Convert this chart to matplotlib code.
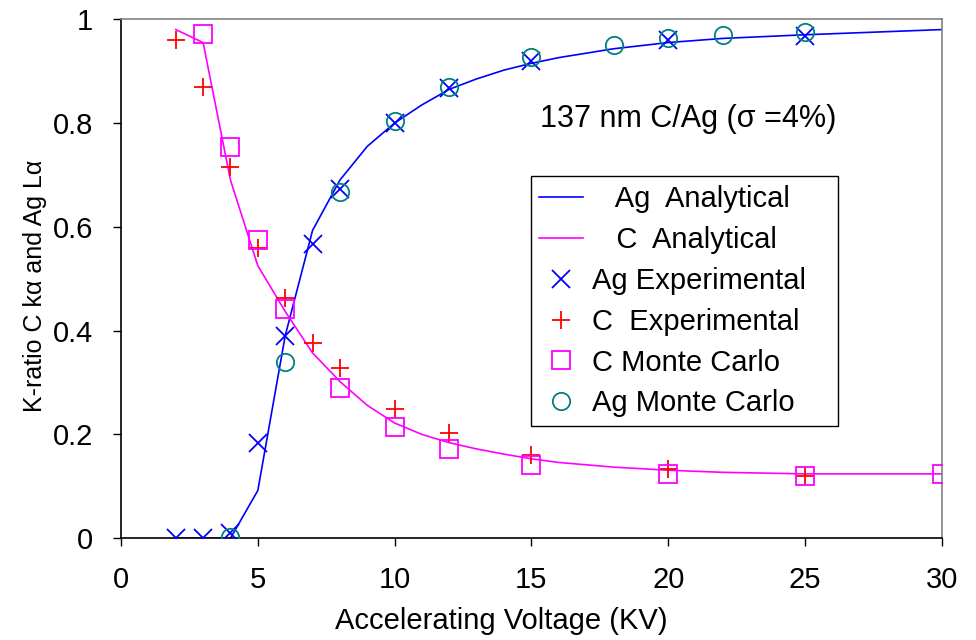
import matplotlib
matplotlib.use("Agg")
import matplotlib.pyplot as plt
from matplotlib.ticker import FuncFormatter

plt.rcParams['font.family'] = ['Liberation Sans', 'DejaVu Sans']

# Analytical curves
ag_an_x = [2, 3, 4, 5, 6, 7, 8, 9, 10, 11, 12, 13, 14, 15, 16, 18, 20, 22, 25, 30]
ag_an_y = [0, 0, 0, 0.092, 0.39, 0.593, 0.69, 0.755, 0.80, 0.835, 0.865, 0.885, 0.902, 0.915, 0.926, 0.943, 0.955, 0.963, 0.970, 0.980]
c_an_x = [2, 3, 4, 5, 6, 7, 8, 9, 10, 11, 12, 13, 14, 15, 16, 18, 20, 22, 25, 30]
c_an_y = [0.98, 0.955, 0.69, 0.525, 0.437, 0.357, 0.302, 0.256, 0.222, 0.200, 0.184, 0.172, 0.162, 0.153, 0.146, 0.137, 0.131, 0.127, 0.124, 0.124]

# Experimental
ag_ex_x = [2, 3, 4, 5, 6, 7, 8, 10, 12, 15, 20, 25]
ag_ex_y = [0, 0, 0.01, 0.183, 0.39, 0.567, 0.672, 0.80, 0.868, 0.92, 0.96, 0.968]
c_ex_x = [2, 3, 4, 5, 6, 7, 8, 10, 12, 15, 20, 25]
c_ex_y = [0.96, 0.869, 0.715, 0.559, 0.462, 0.376, 0.328, 0.249, 0.202, 0.16, 0.133, 0.12]

# Monte Carlo
c_mc_x = [3, 4, 5, 6, 8, 10, 12, 15, 20, 25, 30]
c_mc_y = [0.971, 0.753, 0.574, 0.441, 0.289, 0.214, 0.171, 0.141, 0.123, 0.12, 0.123]
ag_mc_x = [4, 6, 8, 10, 12, 15, 18, 20, 22, 25]
ag_mc_y = [0.003, 0.339, 0.668, 0.803, 0.87, 0.928, 0.95, 0.963, 0.97, 0.975]

x_ticks = [0, 5, 10, 15, 20, 25, 30]
y_ticks = [0, 0.2, 0.4, 0.6, 0.8, 1.0]

fig = plt.figure(figsize=(9.76, 6.4), dpi=100)
ax = fig.add_axes([0.124, 0.159, 0.841, 0.811])

ax.plot(ag_an_x, ag_an_y, color='#0000FF', lw=1.2, label='   Ag  Analytical', zorder=2)
ax.plot(c_an_x, c_an_y, color='#FF00FF', lw=1.2, label='   C  Analytical', zorder=2)
ax.plot(ag_ex_x, ag_ex_y, ls='none', marker='x', ms=13, mew=1.3, color='#0000FF', label='Ag Experimental', zorder=3)
ax.plot(c_ex_x, c_ex_y, ls='none', marker='+', ms=13, mew=1.3, color='#FF0000', label='C  Experimental', zorder=3)
ax.plot(c_mc_x, c_mc_y, ls='none', marker='s', ms=12.5, mew=1.3, mfc='none', mec='#FF00FF', label='C Monte Carlo', zorder=3)
ax.plot(ag_mc_x, ag_mc_y, ls='none', marker='o', ms=12.5, mew=1.3, mfc='none', mec='#008080', label='Ag Monte Carlo', zorder=4)

ax.set_xlim(0, 30)
ax.set_ylim(0, 1)
ax.set_xticks(x_ticks)
ax.set_yticks(y_ticks)
ax.yaxis.set_major_formatter(FuncFormatter(lambda v, p: '%g' % v))
ax.tick_params(axis='both', direction='out', length=6, width=1, labelsize=21, colors='black')
ax.tick_params(axis='x', pad=14)
ax.tick_params(axis='y', pad=14)

for s in ['left', 'bottom']:
    ax.spines[s].set_color('black')
    ax.spines[s].set_linewidth(1.2)
for s in ['top', 'right']:
    ax.spines[s].set_color('#808080')
    ax.spines[s].set_linewidth(1.2)

ax.set_xlabel('Accelerating Voltage (KV)', fontsize=21)
ax.xaxis.set_label_coords(0.463, -0.133)
ax.set_ylabel('K-ratio C k\u03b1 and Ag L\u03b1', fontsize=18)
ax.yaxis.set_label_coords(-0.09, 0.486)

ax.text(0.691, 0.792, '137 nm C/Ag (\u03c3 =4%)', transform=ax.transAxes,
        ha='center', va='baseline', fontsize=22)

leg = ax.legend(loc='upper left', bbox_to_anchor=(0.499, 0.221, 0.3745, 0.476),
                mode='expand', fontsize=21,
                frameon=True, fancybox=False, edgecolor='black', framealpha=1,
                handlelength=1.5, handletextpad=0.3, labelspacing=0.44,
                borderpad=0.3, borderaxespad=0)
leg.get_frame().set_linewidth(1.0)

fig.savefig('out.png', dpi=100, facecolor='white')
